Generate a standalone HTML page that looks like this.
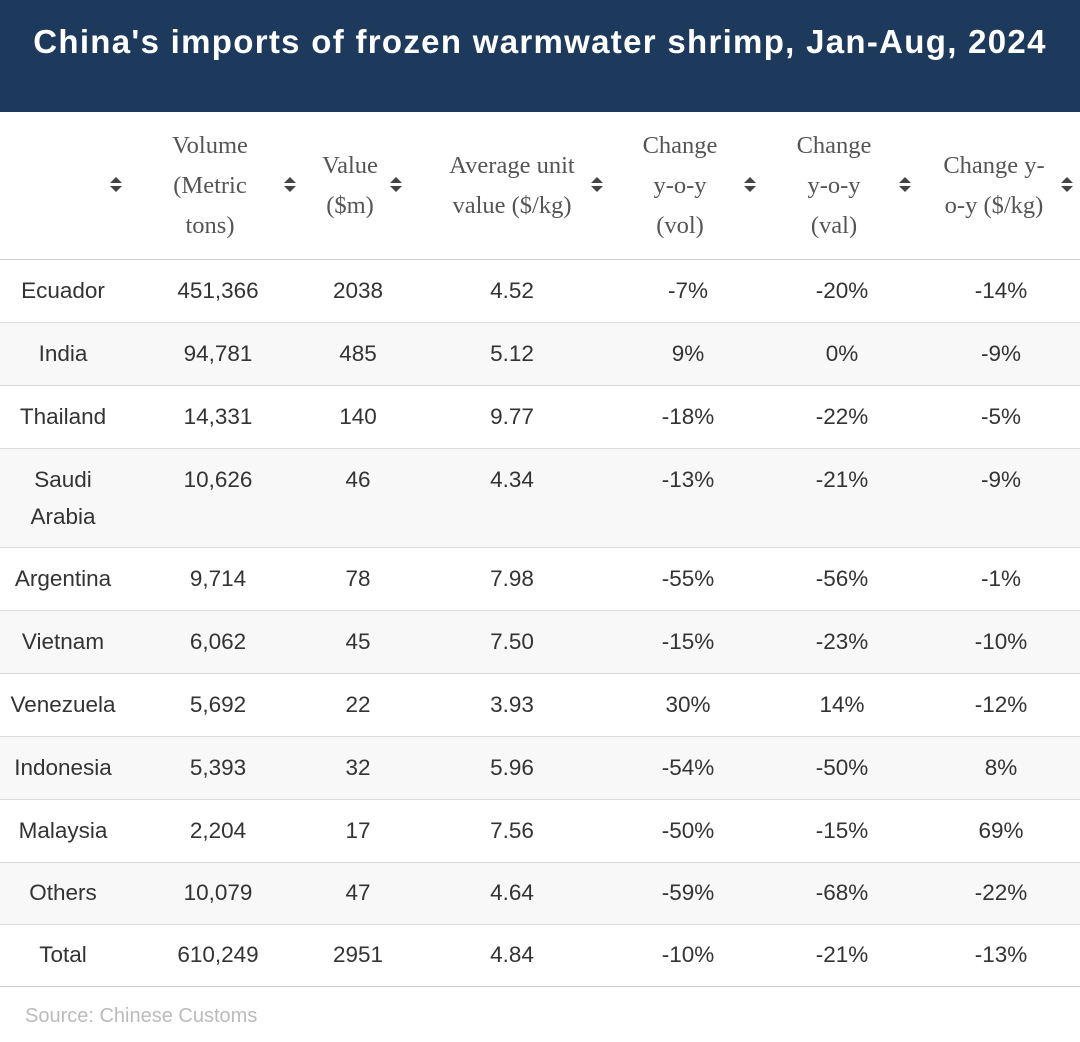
<!DOCTYPE html>
<html><head><meta charset="utf-8"><style>
*{margin:0;padding:0;box-sizing:border-box}
body{width:1080px;height:1042px;background:#fff;position:relative;overflow:hidden;font-family:"Liberation Sans",sans-serif}
.title{position:absolute;left:0;top:0;width:1080px;height:112px;background:#1d3a5c;color:#fff;font-weight:bold;font-size:33px;text-align:center;line-height:84px;letter-spacing:1.3px}
.h{position:absolute;font-family:"Liberation Serif",serif;font-size:24.5px;color:#555;line-height:40px;text-align:center}
.s{position:absolute;width:12px;height:16px}
.s:before{content:"";position:absolute;left:0;top:0;border-left:6px solid transparent;border-right:6px solid transparent;border-bottom:6px solid #444}
.s:after{content:"";position:absolute;left:0;top:9px;border-left:6px solid transparent;border-right:6px solid transparent;border-top:6px solid #444}
.row{position:absolute;left:0;width:1080px;border-bottom:1px solid #ddd}
.g{background:#f8f8f8}
.c{position:absolute;font-size:22.5px;color:#333;text-align:center;line-height:37px}
.src{position:absolute;left:25px;top:1005px;font-size:20px;color:#bbb}
</style></head><body>
<div class="title">China's imports of frozen warmwater shrimp, Jan-Aug, 2024</div>
<div class="row" style="top:112px;height:148px;border-bottom:1px solid #ccc"></div>
<div class="h" style="left:140px;width:140px;top:126px">Volume<br>(Metric<br>tons)</div>
<div class="h" style="left:310px;width:80px;top:146px">Value<br>($m)</div>
<div class="h" style="left:422px;width:180px;top:146px">Average unit<br>value ($/kg)</div>
<div class="h" style="left:620px;width:120px;top:126px">Change<br>y-o-y<br>(vol)</div>
<div class="h" style="left:774px;width:120px;top:126px">Change<br>y-o-y<br>(val)</div>
<div class="h" style="left:924px;width:140px;top:146px">Change y-<br>o-y ($/kg)</div>
<div class="s" style="left:110px;top:177px"></div>
<div class="s" style="left:284px;top:177px"></div>
<div class="s" style="left:390px;top:177px"></div>
<div class="s" style="left:591px;top:177px"></div>
<div class="s" style="left:744px;top:177px"></div>
<div class="s" style="left:899px;top:177px"></div>
<div class="s" style="left:1061px;top:177px"></div>

<div class="row" style="top:260px;height:63px"></div>
<div class="row g" style="top:323px;height:63px"></div>
<div class="row" style="top:386px;height:63px"></div>
<div class="row g" style="top:449px;height:99px"></div>
<div class="row" style="top:548px;height:63px"></div>
<div class="row g" style="top:611px;height:63px"></div>
<div class="row" style="top:674px;height:63px"></div>
<div class="row g" style="top:737px;height:63px"></div>
<div class="row" style="top:800px;height:63px"></div>
<div class="row g" style="top:863px;height:62px"></div>
<div class="row" style="top:925px;height:62px;border-bottom:1px solid #ccc"></div>

<div class="c" style="left:0;width:126px;top:272px">Ecuador</div><div class="c" style="left:148px;width:140px;top:272px">451,366</div><div class="c" style="left:310px;width:96px;top:272px">2038</div><div class="c" style="left:432px;width:160px;top:272px">4.52</div><div class="c" style="left:628px;width:120px;top:272px">-7%</div><div class="c" style="left:782px;width:120px;top:272px">-20%</div><div class="c" style="left:941px;width:120px;top:272px">-14%</div>
<div class="c" style="left:0;width:126px;top:335px">India</div><div class="c" style="left:148px;width:140px;top:335px">94,781</div><div class="c" style="left:310px;width:96px;top:335px">485</div><div class="c" style="left:432px;width:160px;top:335px">5.12</div><div class="c" style="left:628px;width:120px;top:335px">9%</div><div class="c" style="left:782px;width:120px;top:335px">0%</div><div class="c" style="left:941px;width:120px;top:335px">-9%</div>
<div class="c" style="left:0;width:126px;top:398px">Thailand</div><div class="c" style="left:148px;width:140px;top:398px">14,331</div><div class="c" style="left:310px;width:96px;top:398px">140</div><div class="c" style="left:432px;width:160px;top:398px">9.77</div><div class="c" style="left:628px;width:120px;top:398px">-18%</div><div class="c" style="left:782px;width:120px;top:398px">-22%</div><div class="c" style="left:941px;width:120px;top:398px">-5%</div>
<div class="c" style="left:0;width:126px;top:461px">Saudi<br>Arabia</div><div class="c" style="left:148px;width:140px;top:461px">10,626</div><div class="c" style="left:310px;width:96px;top:461px">46</div><div class="c" style="left:432px;width:160px;top:461px">4.34</div><div class="c" style="left:628px;width:120px;top:461px">-13%</div><div class="c" style="left:782px;width:120px;top:461px">-21%</div><div class="c" style="left:941px;width:120px;top:461px">-9%</div>
<div class="c" style="left:0;width:126px;top:560px">Argentina</div><div class="c" style="left:148px;width:140px;top:560px">9,714</div><div class="c" style="left:310px;width:96px;top:560px">78</div><div class="c" style="left:432px;width:160px;top:560px">7.98</div><div class="c" style="left:628px;width:120px;top:560px">-55%</div><div class="c" style="left:782px;width:120px;top:560px">-56%</div><div class="c" style="left:941px;width:120px;top:560px">-1%</div>
<div class="c" style="left:0;width:126px;top:623px">Vietnam</div><div class="c" style="left:148px;width:140px;top:623px">6,062</div><div class="c" style="left:310px;width:96px;top:623px">45</div><div class="c" style="left:432px;width:160px;top:623px">7.50</div><div class="c" style="left:628px;width:120px;top:623px">-15%</div><div class="c" style="left:782px;width:120px;top:623px">-23%</div><div class="c" style="left:941px;width:120px;top:623px">-10%</div>
<div class="c" style="left:0;width:126px;top:686px">Venezuela</div><div class="c" style="left:148px;width:140px;top:686px">5,692</div><div class="c" style="left:310px;width:96px;top:686px">22</div><div class="c" style="left:432px;width:160px;top:686px">3.93</div><div class="c" style="left:628px;width:120px;top:686px">30%</div><div class="c" style="left:782px;width:120px;top:686px">14%</div><div class="c" style="left:941px;width:120px;top:686px">-12%</div>
<div class="c" style="left:0;width:126px;top:749px">Indonesia</div><div class="c" style="left:148px;width:140px;top:749px">5,393</div><div class="c" style="left:310px;width:96px;top:749px">32</div><div class="c" style="left:432px;width:160px;top:749px">5.96</div><div class="c" style="left:628px;width:120px;top:749px">-54%</div><div class="c" style="left:782px;width:120px;top:749px">-50%</div><div class="c" style="left:941px;width:120px;top:749px">8%</div>
<div class="c" style="left:0;width:126px;top:812px">Malaysia</div><div class="c" style="left:148px;width:140px;top:812px">2,204</div><div class="c" style="left:310px;width:96px;top:812px">17</div><div class="c" style="left:432px;width:160px;top:812px">7.56</div><div class="c" style="left:628px;width:120px;top:812px">-50%</div><div class="c" style="left:782px;width:120px;top:812px">-15%</div><div class="c" style="left:941px;width:120px;top:812px">69%</div>
<div class="c" style="left:0;width:126px;top:874px">Others</div><div class="c" style="left:148px;width:140px;top:874px">10,079</div><div class="c" style="left:310px;width:96px;top:874px">47</div><div class="c" style="left:432px;width:160px;top:874px">4.64</div><div class="c" style="left:628px;width:120px;top:874px">-59%</div><div class="c" style="left:782px;width:120px;top:874px">-68%</div><div class="c" style="left:941px;width:120px;top:874px">-22%</div>
<div class="c" style="left:0;width:126px;top:936px">Total</div><div class="c" style="left:148px;width:140px;top:936px">610,249</div><div class="c" style="left:310px;width:96px;top:936px">2951</div><div class="c" style="left:432px;width:160px;top:936px">4.84</div><div class="c" style="left:628px;width:120px;top:936px">-10%</div><div class="c" style="left:782px;width:120px;top:936px">-21%</div><div class="c" style="left:941px;width:120px;top:936px">-13%</div>
<div class="src">Source: Chinese Customs</div>
</body></html>
